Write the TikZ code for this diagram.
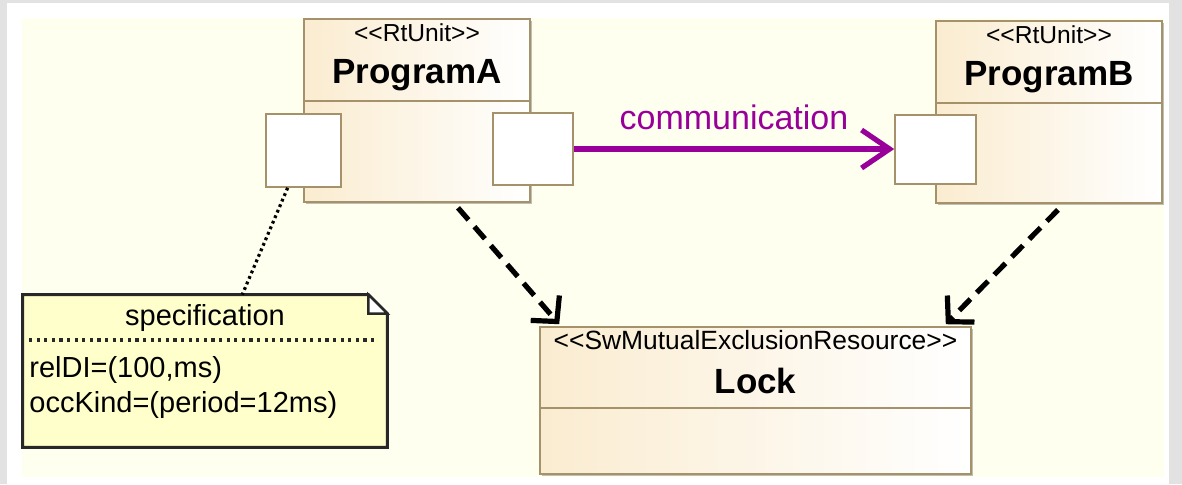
\documentclass[tikz,border=0pt]{standalone}
\usepackage{fontspec}
\setmainfont{Liberation Sans}
\usetikzlibrary{arrows.meta,shadows,calc}
\definecolor{framegrey}{RGB}{226,226,226}
\definecolor{canvas}{RGB}{255,255,240}
\definecolor{boxtan}{RGB}{250,236,208}
\definecolor{boxline}{RGB}{166,146,106}
\definecolor{notefill}{RGB}{255,255,204}
\definecolor{notedraw}{RGB}{40,40,40}
\definecolor{commcol}{RGB}{153,0,153}

\begin{document}
\begin{tikzpicture}[x=0.5pt,y=-0.5pt,
  unitbox/.style={draw=boxline, line width=0.8pt, left color=boxtan, right color=white,
    inner sep=0pt, drop shadow={shadow xshift=1.2pt, shadow yshift=-1.2pt, opacity=0.25, fill=black}},
  portbox/.style={draw=boxline, line width=0.8pt, fill=white, inner sep=0pt},
  stereo/.style={font=\fontsize{12.3}{14}\selectfont, inner sep=0pt},
  ttl/.style={font=\fontsize{17.5}{20}\selectfont\bfseries, inner sep=0pt},
  notetxt/.style={font=\fontsize{14.5}{17}\selectfont, inner sep=0pt},
  sepline/.style={draw=boxline, line width=0.8pt},
  dep/.style={line width=2.6pt, dash pattern=on 8pt off 4.5pt,
    -{Straight Barb[length=9pt,width=19pt,sharp]}},
  commarrow/.style={draw=commcol, line width=2.6pt,
    -{Straight Barb[length=14pt,width=19pt,sharp]}},
  anchorline/.style={line width=1.6pt, dash pattern=on 1.4pt off 1.6pt},
]
\useasboundingbox (0,0) rectangle (1182,484);

% frame and canvas
\fill[framegrey] (0,0) rectangle (1182,484);
\fill[white] (7,3) rectangle (1169,484);
\fill[canvas] (22,18) rectangle (1164,477);

% ProgramA
\node[unitbox, minimum width=113pt, minimum height=91.5pt] (progA) at (417,110.5) {};
\path (0,101) coordinate (sepA);
\draw[sepline] (progA.west |- sepA) -- (progA.east |- sepA);
\node[stereo] (stA) at (417,33) {<{}<RtUnit>{}>};
\node[ttl] (ttlA) at (417,75) {ProgramA};
\node[portbox, minimum width=37.5pt, minimum height=36.5pt] (portA1) at (303.5,150.5) {};
\node[portbox, minimum width=40pt, minimum height=36pt] (portA2) at (533,149) {};

% ProgramB
\node[unitbox, minimum width=113pt, minimum height=91pt] (progB) at (1049,112) {};
\path (0,103) coordinate (sepB);
\draw[sepline] (progB.west |- sepB) -- (progB.east |- sepB);
\node[stereo] (stB) at (1049,35) {<{}<RtUnit>{}>};
\node[ttl] (ttlB) at (1049,77) {ProgramB};
\node[portbox, minimum width=40.5pt, minimum height=34.5pt] (portB) at (935.5,149.5) {};

% Lock
\node[unitbox, minimum width=215.5pt, minimum height=73.5pt] (lock) at (755.5,400.5) {};
\path (0,408) coordinate (sepL);
\draw[sepline] (lock.west |- sepL) -- (lock.east |- sepL);
\node[stereo, font=\fontsize{13.2}{15}\selectfont] (stL) at (755.5,340) {<{}<SwMutualExclusionResource>{}>};
\node[ttl] (ttlL) at (755.5,381) {Lock};

% specification note with folded corner
\node[minimum width=182pt, minimum height=76pt, inner sep=0pt] (note) at (205,371) {};
\draw[notedraw, line width=1.5pt, fill=notefill, line join=miter]
  (note.north west) -- ([xshift=-9.5pt]note.north east) -- ([yshift=-9.5pt]note.north east)
  -- (note.south east) -- (note.south west) -- cycle;
\draw[notedraw, line width=1.2pt, fill=white]
  ([xshift=-9.5pt]note.north east) -- ([xshift=-9.5pt,yshift=-9.5pt]note.north east)
  -- ([yshift=-9.5pt]note.north east) -- cycle;
\node[notetxt] (specT) at (205,318) {specification};
\path (29,340) coordinate (dotL) (377,340) coordinate (dotR);
\draw[notedraw, line width=1.8pt, dash pattern=on 1.6pt off 2.2pt] (dotL) -- (dotR);
\node[notetxt, anchor=west] (relDI) at (29,370) {relDI=(100,ms)};
\node[notetxt, anchor=west] (occK) at (29,405) {occKind=(period=12ms)};

% connectors
\draw[anchorline] (portA1.247) -- (note.64);
\draw[commarrow] (portA2.east) -- node[pos=0.5, yshift=16pt, inner sep=0pt,
  font=\fontsize{17}{20}\selectfont, text=commcol] (commlbl) {communication}
  (portA2.east -| portB.west);
\draw[dep] ([xshift=20.5pt,yshift=-2.5pt]progA.south) -- ([xshift=10pt,yshift=1pt]lock.north west);
\draw[dep] ([xshift=4.5pt,yshift=-3pt]progB.south) -- ([xshift=-13pt,yshift=1pt]lock.north east);
\end{tikzpicture}
\end{document}
